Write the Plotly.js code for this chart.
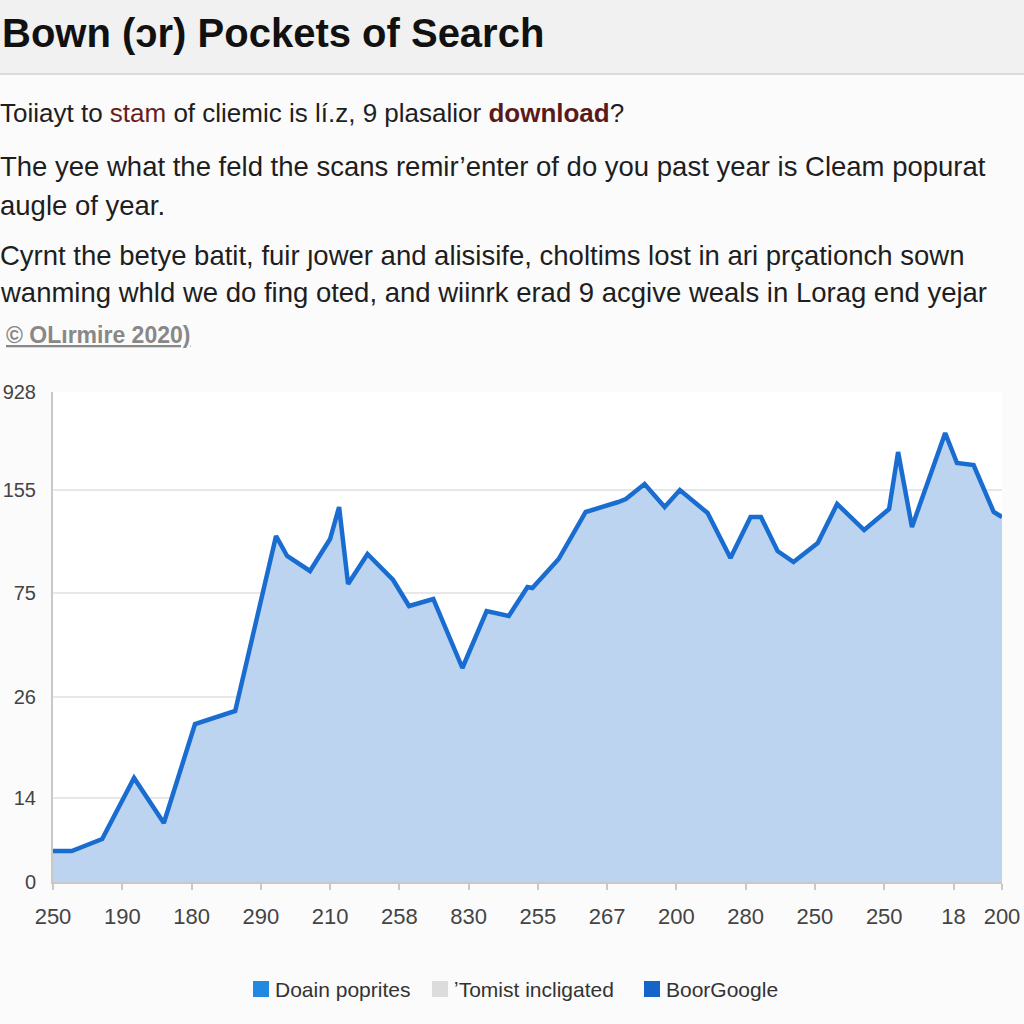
<!DOCTYPE html>
<html>
<head>
<meta charset="utf-8">
<script src="https://cdn.plot.ly/plotly-3.0.1.min.js"></script>
<style>html,body{margin:0;padding:0;background:#fbfbfb;}#chart{width:1024px;height:1024px;}</style>
</head>
<body>
<div id="chart"></div>
<script>
// ---- data ----
var xPos = [0.00,0.27,0.71,1.17,1.60,2.05,2.63,3.22,3.38,3.71,4.00,4.13,4.26,4.54,4.91,5.14,5.49,5.91,6.26,6.58,6.85,6.92,7.30,7.69,8.16,8.27,8.54,8.83,9.05,9.45,9.78,10.07,10.22,10.46,10.69,11.04,11.32,11.71,12.07,12.20,12.40,12.88,13.05,13.29,13.58,13.70];
var yVal = [31,31,43,104,59,158,171,346,326,311,343,375,298,328,302,276,283,214,271,266,295,294,323,370,380,383,398,375,392,369,324,365,365,331,320,339,378,352,373,430,355,449,419,417,370,365];
var xTickVals = [0,1,2,3,4,5,6,7,8,9,10,11,12,13,13.7];
var xTickText = ['250','190','180','290','210','258','830','255','267','200','280','250','250','18','200'];
var yTickVals = [0,84,185,289,392,490];
var yTickText = ['0','14','26','75','155','928'];
var legendNames = ['Doain poprites','\u02bcTomist incligated','BoorGoogle'];
var legendColors = ['#2389e0','#dcdcdc','#1565c8'];

var titleText = 'Bown (\u0254r) Pockets of Search';
var bodyLines = [
  'Toiiayt to <span style="color:#6a1c1c">stam</span> of cliemic is l\u00ed.z, 9 plasalior <b><span style="color:#5a1a1a">download</span></b>?',
  'The yee what the feld the scans remir\u2019enter of do you past year is Cleam popurat',
  'augle of year.',
  'Cyrnt the betye batit, fuir \u0237ower and alisisife, choltims lost in ari pr\u00e7ationch sown',
  'wanming whld we do fing oted, and wiinrk erad 9 acgive weals in Lorag end yejar'
];
var bodyY = [113,166,205,255,292];
var bodySize = [26,27.5,27.5,27.5,27.5];
var sourceText = '\u00a9 OL\u0131rmire 2020)';

// ---- layout helpers (pixel -> paper) ----
var L = 53, R = 22, T = 392, B = 142, W = 1024, H = 1024;
var pw = W - L - R, ph = H - T - B;
function px(p){ return (p - L) / pw; }
function py(p){ return (H - B - p) / ph; }

var annotations = [];
var shapes = [];

// header band
shapes.push({type:'rect', xref:'paper', yref:'paper', x0:px(0), x1:px(W), y0:py(74), y1:py(0), fillcolor:'#f1f1f1', line:{width:0}, layer:'below'});
shapes.push({type:'line', xref:'paper', yref:'paper', x0:px(0), x1:px(W), y0:py(74), y1:py(74), line:{color:'#dadada', width:2}});

annotations.push({xref:'paper', yref:'paper', x:px(0), y:py(33), xanchor:'left', yanchor:'middle', showarrow:false,
  text:'<b>'+titleText+'</b>', font:{family:'Liberation Sans, Arial, sans-serif', size:40, color:'#111'}});

bodyLines.forEach(function(t,i){
  annotations.push({xref:'paper', yref:'paper', x:px(-2), y:py(bodyY[i]), xanchor:'left', yanchor:'middle', showarrow:false,
    text:t, font:{family:'Liberation Sans, Arial, sans-serif', size:bodySize[i], color:'#1e1e1e'}});
});
annotations.push({xref:'paper', yref:'paper', x:px(4), y:py(335), xanchor:'left', yanchor:'middle', showarrow:false,
  text:'<b>'+sourceText+'</b>', font:{family:'Liberation Sans, Arial, sans-serif', size:23, color:'#888', lineposition:'under'}});

// legend drawn as swatches + labels
var legX = [253, 432, 644];
legendNames.forEach(function(n,i){
  shapes.push({type:'rect', xref:'paper', yref:'paper', x0:px(legX[i]), x1:px(legX[i]+16), y0:py(997), y1:py(981), fillcolor:legendColors[i], line:{width:0}});
  annotations.push({xref:'paper', yref:'paper', x:px(legX[i]+20), y:py(989), xanchor:'left', yanchor:'middle', showarrow:false,
    text:n, font:{family:'Liberation Sans, Arial, sans-serif', size:21, color:'#333'}});
});

var trace = {
  x: xPos, y: yVal, type:'scatter', mode:'lines', fill:'tozeroy',
  fillcolor:'#bcd4ef', line:{color:'#1a6dd0', width:4.5, shape:'linear'},
  hoverinfo:'skip', showlegend:false
};

var layout = {
  width: W, height: H,
  margin:{l:L, r:R, t:T, b:B, pad:0},
  paper_bgcolor:'#fbfbfb', plot_bgcolor:'#ffffff',
  showlegend:false,
  xaxis:{range:[0,13.7], tickmode:'array', tickvals:xTickVals, ticktext:xTickText,
    showgrid:false, zeroline:false, showline:true, linecolor:'#c8c8c8', linewidth:2,
    ticks:'outside', ticklen:6, tickcolor:'#c8c8c8', tickwidth:2,
    tickfont:{family:'Liberation Sans, Arial, sans-serif', size:22, color:'#444'}, ticklabelstandoff:8},
  yaxis:{range:[0,490], tickmode:'array', tickvals:yTickVals, ticktext:yTickText,
    showgrid:true, gridcolor:'#e7e7e7', gridwidth:2, zeroline:false, showline:true, linecolor:'#c8c8c8', linewidth:2,
    ticks:'', tickfont:{family:'Liberation Sans, Arial, sans-serif', size:20, color:'#444'}, ticklabelstandoff:11},
  shapes: shapes,
  annotations: annotations
};

Plotly.newPlot('chart', [trace], layout, {displayModeBar:false, staticPlot:true});
</script>
</body>
</html>
